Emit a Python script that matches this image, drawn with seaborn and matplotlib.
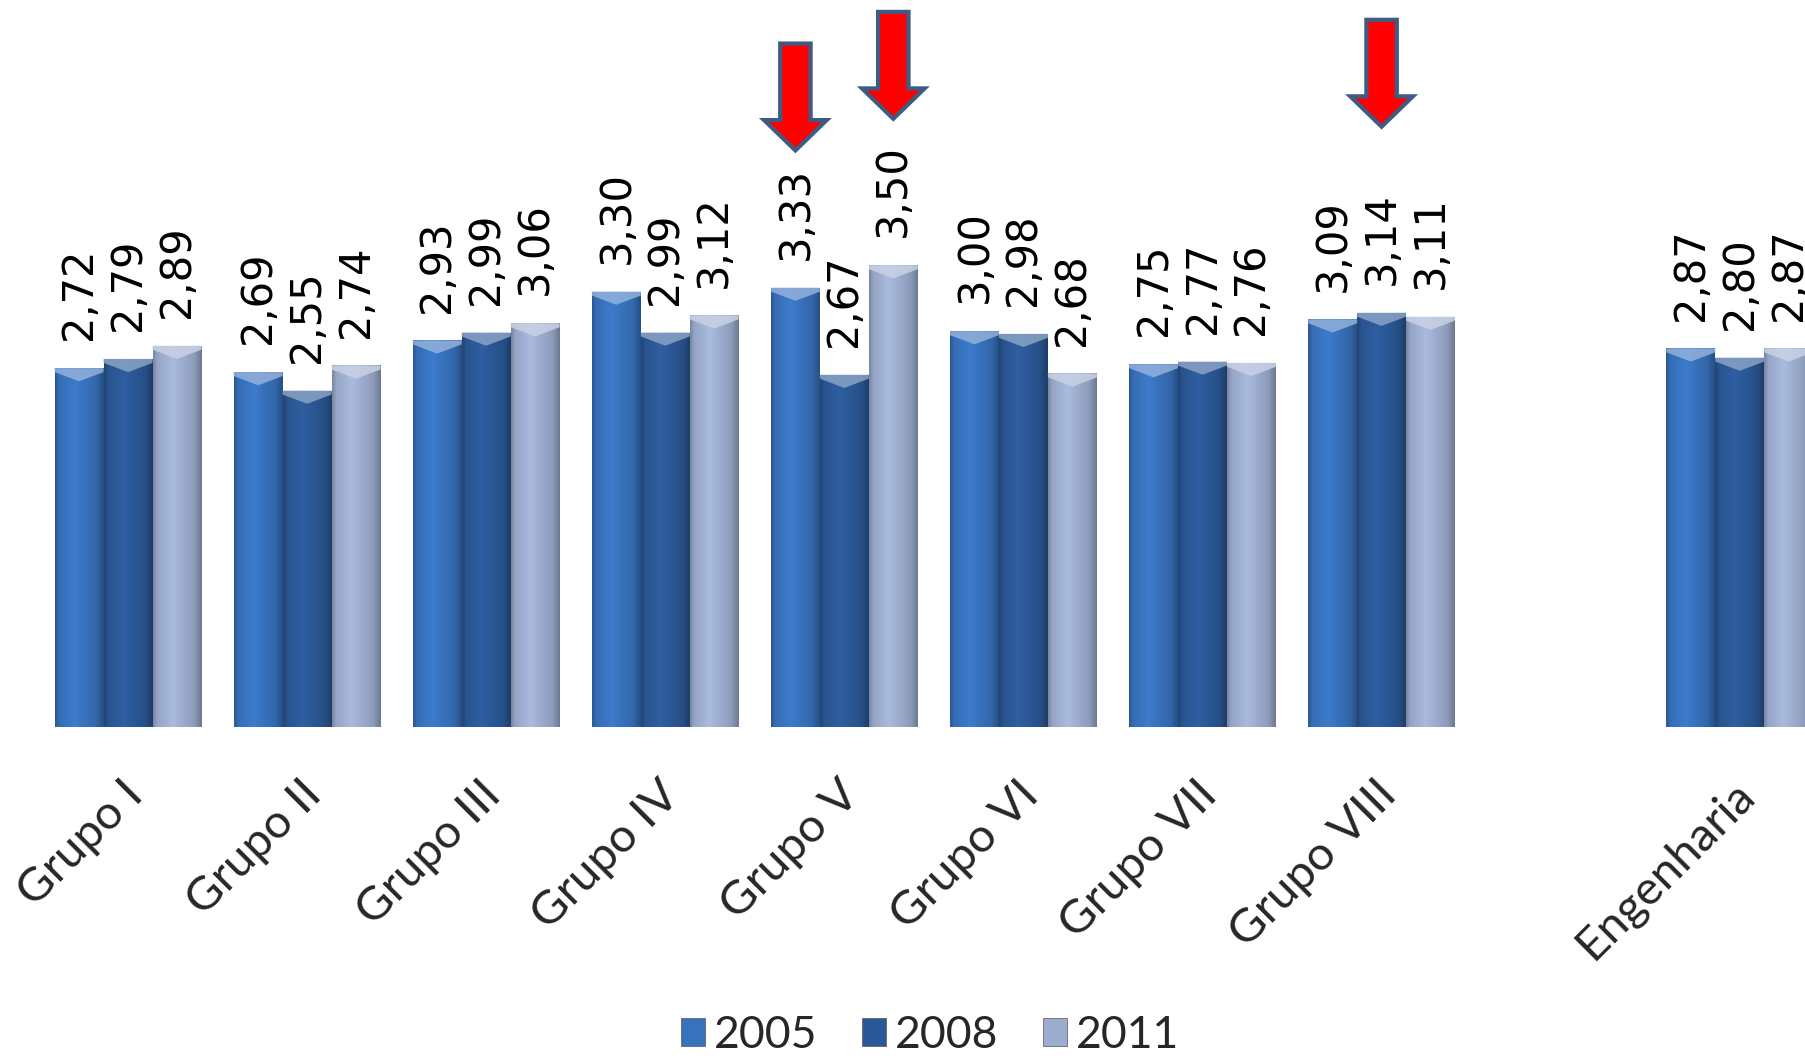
import numpy as np
import pandas as pd
import matplotlib
matplotlib.use("Agg")

import matplotlib.pyplot as plt
import matplotlib.transforms as mtransforms
import seaborn as sns
from matplotlib.patches import Polygon, FancyArrow, Patch
from matplotlib.colors import to_rgb

# dados do gráfico (categoria vazia separa Engenharia dos grupos)
categorias = ["Grupo I", "Grupo II", "Grupo III", "Grupo IV", "Grupo V",
              "Grupo VI", "Grupo VII", "Grupo VIII", " ", "Engenharia"]
anos = ["2005", "2008", "2011"]
v2005 = [2.72, 2.69, 2.93, 3.30, 3.33, 3.00, 2.75, 3.09, np.nan, 2.87]
v2008 = [2.79, 2.55, 2.99, 2.99, 2.67, 2.98, 2.77, 3.14, np.nan, 2.80]
v2011 = [2.89, 2.74, 3.06, 3.12, 3.50, 2.68, 2.76, 3.11, np.nan, 2.87]

# setas vermelhas de destaque
setas_categoria = ["Grupo V", "Grupo V", "Grupo VIII"]
setas_ano = ["2005", "2011", "2008"]
setas_ponta = [4.37, 4.61, 4.55]
setas_cauda = [5.18, 5.42, 5.36]

cores = {"2005": "#3872bd", "2008": "#2b5896", "2011": "#9dadcf"}

df = pd.DataFrame({
    "Categoria": categorias * 3,
    "Ano": [a for a in anos for _ in categorias],
    "Valor": v2005 + v2008 + v2011,
})

sns.set_style("white")
fig = plt.figure(figsize=(18.06, 10.64), dpi=100)
ax = fig.add_axes([0, 0.3167, 1, 0.6833])

sns.barplot(data=df, x="Categoria", y="Valor", hue="Ano", order=categorias,
            hue_order=anos, palette=cores, width=0.82, gap=0, ax=ax,
            legend=False, errorbar=None, saturation=1, linewidth=0)

XMIN, XMAX, YMAX = -0.715, 9.37, 5.51

# gradiente horizontal + bisel no topo de cada barra
perfil = np.interp(np.linspace(0, 1, 60), [0, 0.08, 0.4, 0.85, 1],
                   [0.78, 0.95, 1.08, 0.9, 0.7])
posicoes = {}
for ano, cont in zip(anos, ax.containers):
    base = np.array(to_rgb(cores[ano]))
    for p in cont.patches:
        h = p.get_height()
        if not np.isfinite(h) or h == 0:
            continue
        x0, w = p.get_x(), p.get_width()
        cat = categorias[int(round(x0 + w / 2))]
        posicoes[(cat, ano)] = x0 + w / 2
        img = np.clip(base[None, None, :] * perfil[None, :, None], 0, 1)
        im = ax.imshow(img, extent=[x0, x0 + w, 0, h], aspect="auto",
                       zorder=p.get_zorder() + 0.1, interpolation="bilinear")
        im.set_clip_path(p)
        claro = base + (1 - base) * 0.45
        ax.add_patch(Polygon([(x0, h), (x0 + w, h), (x0 + w, h - 0.03),
                              (x0 + w / 2, h - 0.1), (x0, h - 0.03)],
                             closed=True, facecolor=claro, edgecolor="none",
                             alpha=0.85, zorder=p.get_zorder() + 0.2))
    rotulos = ["" if not np.isfinite(v) else f"{v:.2f}".replace(".", ",")
               for v in cont.datavalues]
    ax.bar_label(cont, labels=rotulos, rotation=90, padding=20,
                 fontsize=30, family="DejaVu Sans", color="black")

# setas
for cat, ano, ponta, cauda in zip(setas_categoria, setas_ano, setas_ponta, setas_cauda):
    x = posicoes[(cat, ano)]
    seta = FancyArrow(x, cauda, 0, ponta - cauda, width=0.17, head_width=0.35,
                      head_length=0.23, length_includes_head=True,
                      facecolor="#ff0000", edgecolor="#3e5b84", linewidth=3,
                      zorder=5)
    ax.add_patch(seta)

ax.set_xlim(XMIN, XMAX)
ax.set_ylim(0, YMAX)
ax.set_xlabel("")
ax.set_ylabel("")
ax.set_yticks([])
for s in ax.spines.values():
    s.set_visible(False)

ax.set_xticks(range(len(categorias)))
ax.set_xticklabels(categorias, rotation=45, ha="right", va="center",
                   rotation_mode="anchor", fontsize=34, family="Lato")
ax.tick_params(axis="x", length=0, pad=0)
desloc = mtransforms.ScaledTranslation(0.08, -0.61, fig.dpi_scale_trans)
for lbl in ax.get_xticklabels():
    lbl.set_transform(lbl.get_transform() + desloc)

handles = [Patch(facecolor=cores[a], edgecolor="#555555", linewidth=0.5) for a in anos]
fig.legend(handles, anos, loc="lower center", bbox_to_anchor=(0.515, -0.03),
           ncol=3, frameon=False, prop={"family": "Lato", "size": 32},
           handlelength=0.55, handleheight=0.6, handletextpad=0.2,
           columnspacing=1.0)

fig.savefig("out.png", dpi=100)
